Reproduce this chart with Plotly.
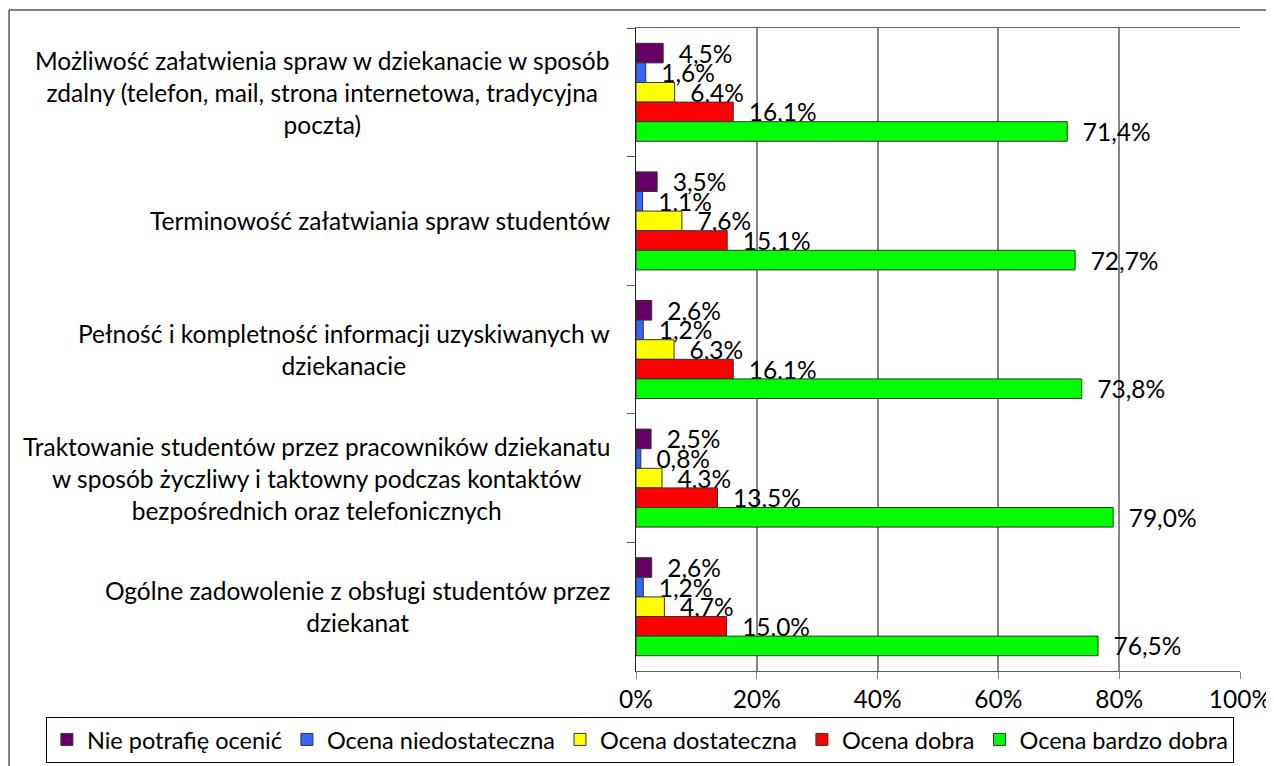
import plotly.graph_objects as go

categories = [
    "Możliwość załatwienia spraw w dziekanacie w sposób<br>zdalny (telefon, mail, strona internetowa, tradycyjna<br>poczta)",
    "Terminowość załatwiania spraw studentów",
    "Pełność i kompletność informacji uzyskiwanych w<br>dziekanacie",
    "Traktowanie studentów przez pracowników dziekanatu<br>w sposób życzliwy i taktowny podczas kontaktów<br>bezpośrednich oraz telefonicznych",
    "Ogólne zadowolenie z obsługi studentów przez<br>dziekanat",
]
series_names = ["Nie potrafię ocenić", "Ocena niedostateczna", "Ocena dostateczna",
                "Ocena dobra", "Ocena bardzo dobra"]
nie_potrafie = [4.5, 3.5, 2.6, 2.5, 2.6]
niedostateczna = [1.6, 1.1, 1.2, 0.8, 1.2]
dostateczna = [6.4, 7.6, 6.3, 4.3, 4.7]
dobra = [16.1, 15.1, 16.1, 13.5, 15.0]
bardzo_dobra = [71.4, 72.7, 73.8, 79.0, 76.5]
series_values = [nie_potrafie, niedostateczna, dostateczna, dobra, bardzo_dobra]
colors = ["#660066", "#3366FF", "#FFFF00", "#FF0000", "#00FF00"]
x_ticks = [0, 20, 40, 60, 80, 100]
x_tick_labels = ["0%", "20%", "40%", "60%", "80%", "100%"]

FONT = "Lato"
FS = 24.5
keys = [f"c{i}" for i in range(len(categories))]

fig = go.Figure()
for name, vals, col in zip(series_names, series_values, colors):
    fig.add_trace(go.Bar(
        y=keys, x=vals, name=name, orientation="h",
        marker=dict(color=col, line=dict(color="#333333", width=1)),
        texttemplate="\u00a0\u00a0%{x:.1f}%", textposition="outside",
        constraintext="none", cliponaxis=False,
        textfont=dict(family=FONT, size=FS, color="black"),
    ))

for k, lab in zip(keys, categories):
    fig.add_annotation(x=-0.04, xref="paper", xanchor="right", y=k, yref="y",
                       text=lab, showarrow=False, align="center",
                       font=dict(family=FONT, size=FS, color="black"))

# outer chart frame (top and left edges visible in the reference)
fig.add_shape(type="line", xref="paper", yref="paper", x0=-1.038, x1=1.2,
              y0=1.028, y1=1.028, line=dict(color="#555555", width=1.5))
fig.add_shape(type="line", xref="paper", yref="paper", x0=-1.038, x1=-1.038,
              y0=-0.3, y1=1.028, line=dict(color="#555555", width=1.5))

fig.update_layout(
    width=1266, height=758, barmode="group", bargap=0.238, bargroupgap=0,
    separators=", ", paper_bgcolor="white", plot_bgcolor="white",
    margin=dict(l=628, r=34, t=20, b=95, autoexpand=False),
    font=dict(family=FONT, size=FS, color="black"),
    showlegend=True,
    legend=dict(orientation="h", x=-0.977, xanchor="left", y=-0.071, yanchor="top",
                bordercolor="black", borderwidth=1, font=dict(family=FONT, size=23.5),
                itemwidth=30, traceorder="normal"),
    xaxis=dict(range=[0, 100], tickmode="array", tickvals=x_ticks, ticktext=x_tick_labels,
               showgrid=True, gridcolor="#868686", gridwidth=1.5, ticks="outside", ticklen=7,
               tickcolor="#868686", showline=True, linecolor="#606060", mirror=True,
               zeroline=False, tickfont=dict(family=FONT, size=FS)),
    yaxis=dict(type="category", autorange="reversed", showticklabels=False,
               tickson="boundaries", ticks="outside", ticklen=8, tickcolor="#555555",
               showline=True, linecolor="#222222", showgrid=False),
)

fig.write_html("out.html")
